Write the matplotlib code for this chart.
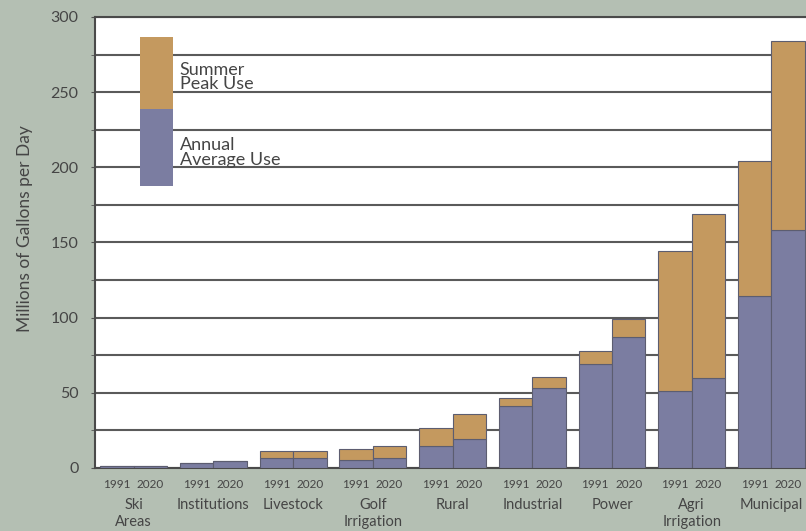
import matplotlib.pyplot as plt
import matplotlib.patches as mpatches
import numpy as np

plt.rcParams['font.family'] = ['Lato', 'DejaVu Sans']

categories = ["Ski\nAreas", "Institutions", "Livestock", "Golf\nIrrigation", "Rural",
              "Industrial", "Power", "Agri\nIrrigation", "Municipal"]
years = ["1991", "2020"]
avg_1991 = [1, 3.2, 6.5, 5.5, 14.5, 40.8, 69, 51, 114]
peak_1991 = [1, 3.2, 11.5, 12.6, 26.5, 46.4, 78, 144.5, 204]
avg_2020 = [1, 4.4, 6.5, 6.5, 19, 53, 87, 60, 158]
peak_2020 = [1, 4.4, 11.5, 14.2, 36, 60.7, 99, 169, 284]

bg = '#b4bfb3'
orange = '#c4995f'
blue = '#7b7da1'
edge = '#5c5d70'
txt = '#454545'

fig = plt.figure(figsize=(8.06, 5.31), dpi=100, facecolor=bg)
ax = fig.add_axes([0.118, 0.119, 0.882, 0.849])
ax.set_facecolor('white')

x = np.arange(len(categories))
w = 0.42
for off, avg, peak in [(-w / 2, avg_1991, peak_1991), (w / 2, avg_2020, peak_2020)]:
    avg = np.array(avg)
    peak = np.array(peak)
    ax.bar(x + off, avg, width=w, color=blue, edgecolor=edge, linewidth=0.8, zorder=3)
    ax.bar(x + off, peak - avg, bottom=avg, width=w, color=orange, edgecolor=edge,
           linewidth=0.8, zorder=3)

ax.set_xlim(-0.483, 8.433)
ax.set_ylim(0, 300)
ax.set_yticks(np.arange(0, 301, 50))
ax.set_yticks(np.arange(0, 301, 25), minor=True)
ax.yaxis.grid(True, which='both', color='#5a5a5a', linewidth=1.5, zorder=0)
ax.set_axisbelow(True)
ax.tick_params(axis='y', which='both', length=3, color='#555555', labelsize=11.5,
               labelcolor=txt, pad=9)

ax.set_xticks(np.concatenate([x - w / 2, x + w / 2]))
ax.set_xticklabels(years[:1] * len(x) + years[1:] * len(x), fontsize=8.5, color=txt)
ax.set_xticks(x, minor=True)
ax.set_xticklabels(categories, minor=True, fontsize=10.5, color=txt, linespacing=1.2)
ax.tick_params(axis='x', which='major', length=0, pad=8)
ax.tick_params(axis='x', which='minor', length=0, pad=22)

for s in ['left', 'bottom', 'top']:
    ax.spines[s].set_color('#4a4a4a')
    ax.spines[s].set_linewidth(1.5)
ax.spines['right'].set_visible(False)

ax.set_ylabel("Millions of Gallons per Day", fontsize=12.5, color=txt)
ax.yaxis.set_label_coords(-0.088, 0.53)

# legend key
ax.add_patch(mpatches.Rectangle((0.0815, 187.6), 0.41, 50.9, facecolor=blue,
                                edgecolor='none', zorder=4))
ax.add_patch(mpatches.Rectangle((0.0815, 238.5), 0.41, 48.5, facecolor=orange,
                                edgecolor='none', zorder=4))
ax.text(0.58, 260, "Summer\nPeak Use", fontsize=13, color=txt, va='center', ha='left',
        linespacing=0.9, zorder=4)
ax.text(0.58, 210, "Annual\nAverage Use", fontsize=13, color=txt, va='center', ha='left',
        linespacing=0.9, zorder=4)

fig.savefig('out.png', dpi=100, facecolor=bg)
